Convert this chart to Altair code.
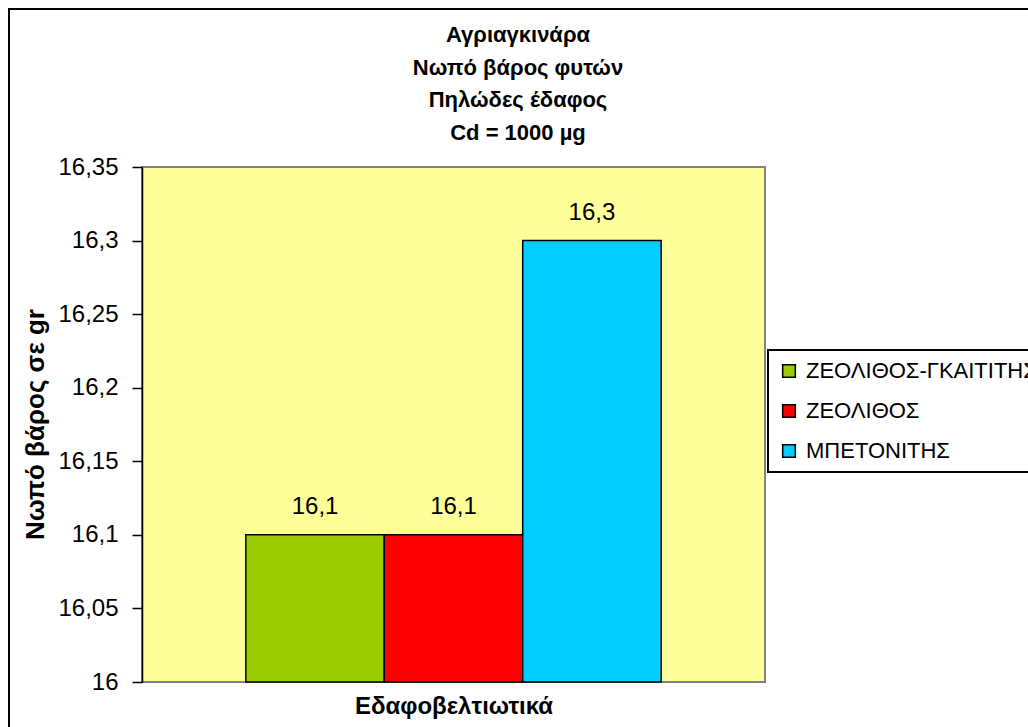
import altair as alt
import pandas as pd

# Soil amendments and measured fresh plant weight (gr)
amendments = ["ΖΕΟΛΙΘΟΣ-ΓΚΑΙΤΙΤΗΣ", "ΖΕΟΛΙΘΟΣ", "ΜΠΕΤΟΝΙΤΗΣ"]
weights = [16.1, 16.1, 16.3]
bar_colors = ["#99CC00", "#FF0000", "#00CCFF"]
y_ticks = [16.0, 16.05, 16.1, 16.15, 16.2, 16.25, 16.3, 16.35]
title_lines = ["Αγριαγκινάρα", "Νωπό βάρος φυτών", "Πηλώδες έδαφος", "Cd = 1000 µg"]

FONT = "Liberation Sans, Arial, sans-serif"

df = pd.DataFrame({"amendment": amendments, "weight": weights})
title_df = pd.DataFrame({"t": ["\n".join(title_lines)]})

x_enc = alt.X(
    "amendment:N",
    sort=amendments,
    scale=alt.Scale(paddingInner=0, paddingOuter=0.75),
    axis=alt.Axis(
        title="Εδαφοβελτιωτικά",
        labels=False,
        ticks=False,
        domain=False,
        titleFont=FONT,
        titleFontSize=24,
        titleFontWeight="bold",
        titleColor="black",
        titleBaseline="alphabetic",
        titleY=31,
    ),
)

y_scale = alt.Scale(domain=[16.0, 16.35], nice=False, zero=False)

bars = alt.Chart(df).mark_bar(stroke="black", strokeWidth=1.5).encode(
    x=x_enc,
    y=alt.Y(
        "weight:Q",
        scale=y_scale,
        axis=alt.Axis(
            title="Νωπό βάρος σε gr",
            values=y_ticks,
            labelExpr="replace(format(datum.value, '.2~f'), '.', ',')",
            grid=False,
            domainColor="black",
            domainWidth=1.5,
            tickColor="black",
            tickWidth=1.5,
            tickSize=10,
            labelFont=FONT,
            labelFontSize=24,
            labelColor="black",
            labelPadding=14,
            titleFont=FONT,
            titleFontSize=26,
            titleFontWeight="bold",
            titleColor="black",
            titleAngle=270,
            titleAlign="center",
            titleBaseline="alphabetic",
            titleX=-99,
            titleY=257,
        ),
    ),
    y2=alt.datum(16.0),
    color=alt.Color(
        "amendment:N",
        sort=amendments,
        scale=alt.Scale(domain=amendments, range=bar_colors),
        legend=alt.Legend(
            title=None,
            orient="none",
            legendX=626,
            legendY=183,
            symbolType="square",
            symbolSize=160,
            symbolStrokeColor="black",
            symbolStrokeWidth=1.5,
            symbolOpacity=1,
            labelFont=FONT,
            labelFontSize=22,
            labelColor="black",
            labelLimit=500,
            labelOffset=6,
            rowPadding=18,
            padding=10,
            strokeColor="black",
            fillColor="white",
        ),
    ),
)

labels = alt.Chart(df).transform_calculate(
    label="replace(format(datum.weight, '.2~f'), '.', ',')"
).mark_text(
    font=FONT, fontSize=24, color="black", baseline="alphabetic", dy=-21
).encode(
    x=alt.X("amendment:N", sort=amendments),
    y=alt.Y("weight:Q", scale=y_scale),
    text="label:N",
)

heading = alt.Chart(title_df).mark_text(
    font=FONT,
    fontSize=22,
    fontWeight="bold",
    color="black",
    align="center",
    baseline="alphabetic",
    lineBreak="\n",
    lineHeight=32.5,
).encode(x=alt.value(376), y=alt.value(-125), text="t:N")

frame_df = pd.DataFrame({"k": [0]})
frame = alt.Chart(frame_df).mark_rect(
    fillOpacity=0, stroke="black", strokeWidth=2
).encode(
    x=alt.value(-133), x2=alt.value(1200), y=alt.value(-158), y2=alt.value(900)
)

chart = (
    alt.layer(frame, bars, labels, heading)
    .properties(
        width=623,
        height=515,
        padding={"left": 142, "top": 167, "right": 263, "bottom": 45},
        autosize=alt.AutoSizeParams(type="none"),
        background="white",
    )
    .configure_view(fill="#FFFF99", stroke="#808080", strokeWidth=2)
    .configure_legend(strokeWidth=2)
)

chart.save("out.html", embed_options={"renderer": "svg", "actions": False})
